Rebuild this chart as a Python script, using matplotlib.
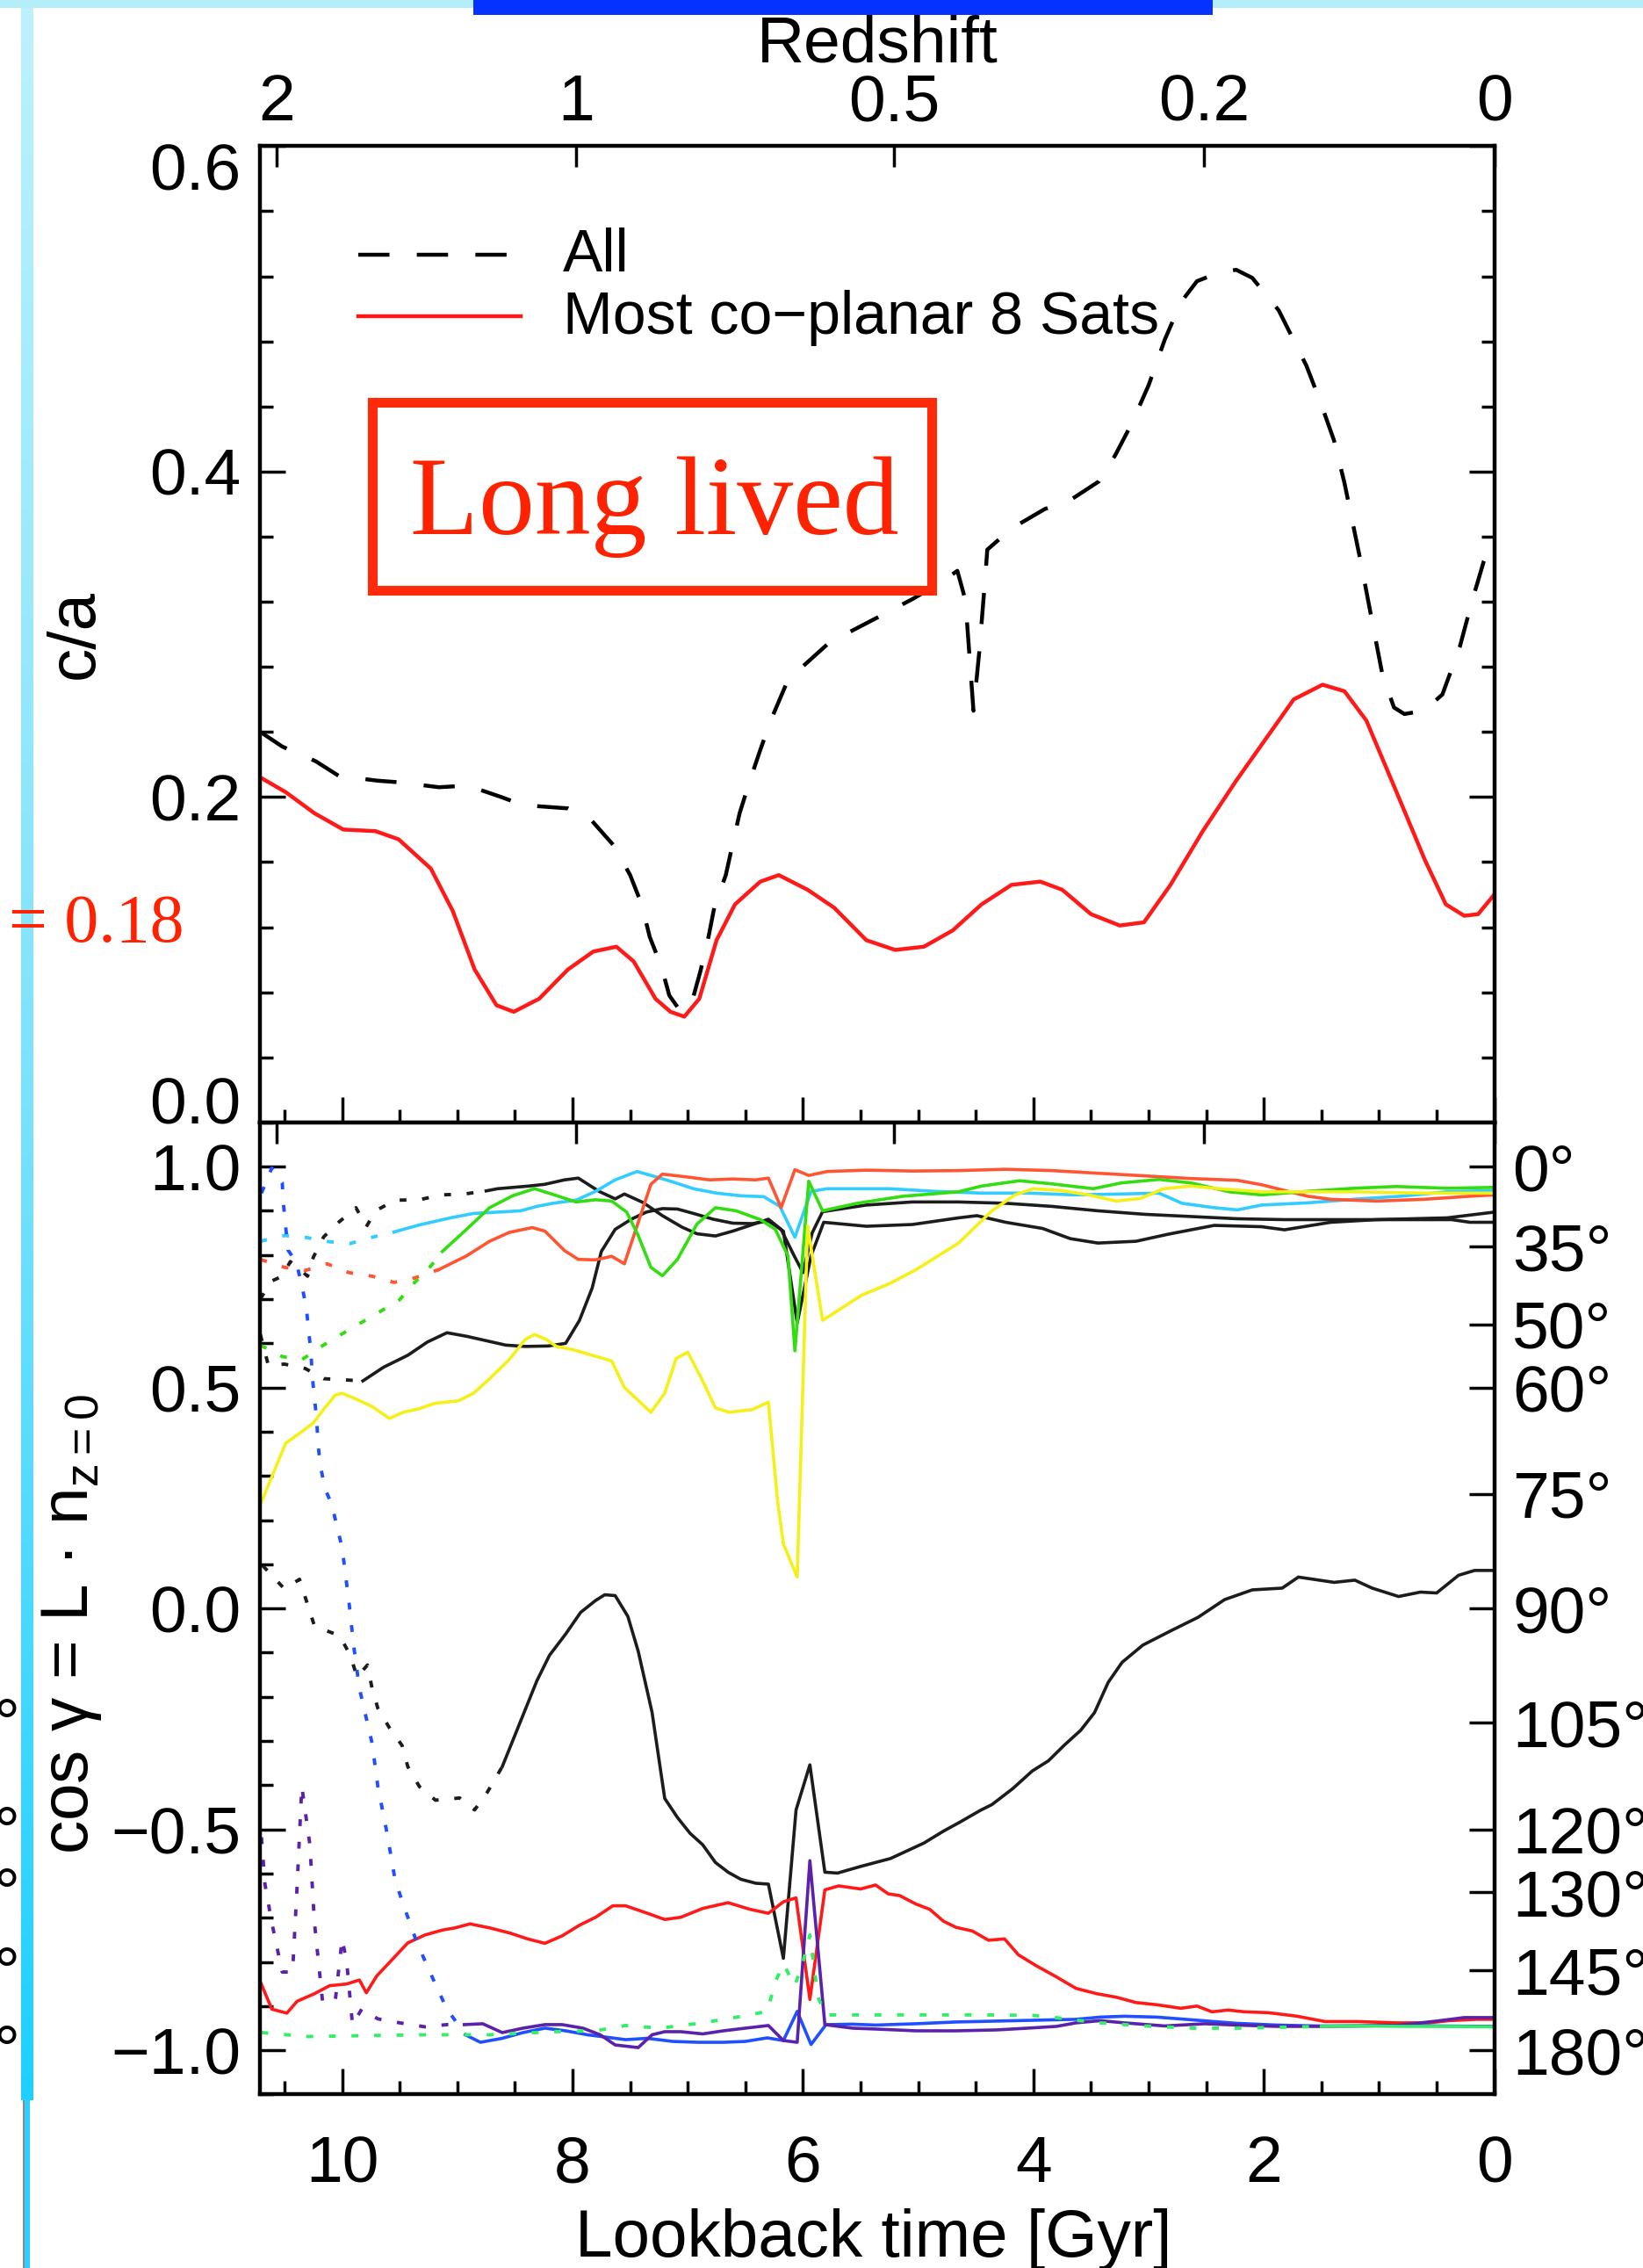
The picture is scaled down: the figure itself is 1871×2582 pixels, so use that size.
import numpy as np
import matplotlib.pyplot as plt
import matplotlib.transforms as mtransforms
from matplotlib.patches import Rectangle
from matplotlib.colors import LinearSegmentedColormap
from matplotlib.ticker import MultipleLocator, NullLocator

plt.rcParams['font.family'] = ['Liberation Sans', 'DejaVu Sans']
plt.rcParams['mathtext.fontset'] = 'custom'
plt.rcParams['mathtext.rm'] = 'Liberation Sans'
plt.rcParams['mathtext.it'] = 'Liberation Sans:italic'

# ---------------- top panel: c/a against lookback time [Gyr]
t_all = [10.71, 10.52, 10.23, 10.03, 9.69, 9.50, 9.16, 8.91, 8.62, 8.43, 8.04, 7.84, 7.64, 7.50,
         7.40, 7.33, 7.23, 7.16, 7.06, 6.96, 6.89, 6.82, 6.77, 6.67, 6.62, 6.55, 6.47, 6.38, 6.28,
         6.13, 5.77, 5.28, 5.04, 4.78, 4.66, 4.59, 4.52, 4.47, 4.42, 4.40, 4.19, 3.90, 3.69, 3.43,
         3.29, 3.15, 3.00, 2.86, 2.72, 2.58, 2.40, 2.24, 2.10, 1.87, 1.63, 1.51, 1.39, 1.30, 1.23,
         1.16, 1.06, 0.97, 0.87, 0.78, 0.61, 0.45, 0.30, 0.19, 0.09, 0.0]
ca_all = [0.240, 0.231, 0.222, 0.213, 0.210, 0.209, 0.206, 0.207, 0.200, 0.195, 0.193, 0.186, 0.170,
          0.152, 0.134, 0.114, 0.096, 0.078, 0.068, 0.075, 0.093, 0.114, 0.132, 0.152, 0.168, 0.190,
          0.208, 0.227, 0.247, 0.272, 0.295, 0.313, 0.322, 0.333, 0.339, 0.321, 0.253, 0.289, 0.333,
          0.352, 0.365, 0.377, 0.382, 0.394, 0.410, 0.429, 0.453, 0.481, 0.504, 0.517, 0.522, 0.524,
          0.519, 0.499, 0.465, 0.443, 0.419, 0.393, 0.369, 0.345, 0.308, 0.275, 0.255, 0.251, 0.253,
          0.263, 0.292, 0.321, 0.345, 0.360]

t_sats = [10.71, 10.49, 10.24, 9.99, 9.71, 9.51, 9.23, 9.04, 8.85, 8.66, 8.51, 8.29, 8.04, 7.82, 7.62,
          7.47, 7.28, 7.15, 7.03, 6.90, 6.75, 6.59, 6.37, 6.21, 5.96, 5.73, 5.45, 5.20, 4.95, 4.70,
          4.45, 4.19, 3.94, 3.75, 3.50, 3.25, 3.04, 2.81, 2.53, 2.24, 1.99, 1.74, 1.49, 1.30, 1.11,
          0.86, 0.60, 0.42, 0.26, 0.14, 0.0]
ca_sats = [0.212, 0.203, 0.190, 0.180, 0.179, 0.174, 0.156, 0.130, 0.094, 0.072, 0.068, 0.076, 0.094,
           0.105, 0.108, 0.099, 0.076, 0.068, 0.065, 0.076, 0.112, 0.134, 0.148, 0.152, 0.143, 0.132,
           0.112, 0.106, 0.108, 0.118, 0.134, 0.146, 0.148, 0.143, 0.128, 0.121, 0.123, 0.146, 0.179,
           0.210, 0.235, 0.260, 0.269, 0.265, 0.247, 0.205, 0.161, 0.134, 0.127, 0.128, 0.140]

# ---------------- bottom panel: cos(gamma) per satellite, [lookback, cos]
black_a = [[10.71, 0.70], [10.62, 0.74], [10.52, 0.752], [10.45, 0.785], [10.30, 0.752], [10.25, 0.795],
           [10.16, 0.841], [10.03, 0.874], [9.88, 0.907], [9.79, 0.864], [9.71, 0.90], [9.54, 0.924],
           [9.33, 0.925], [9.14, 0.936], [8.94, 0.938], [8.75, 0.945], [8.65, 0.95], [8.38, 0.956],
           [8.24, 0.96], [8.07, 0.97], [7.95, 0.974], [7.77, 0.944], [7.63, 0.927], [7.55, 0.938],
           [7.39, 0.919], [7.22, 0.889], [7.05, 0.863], [6.92, 0.848], [6.76, 0.843], [6.61, 0.854],
           [6.47, 0.866], [6.30, 0.881], [6.19, 0.858], [6.08, 0.80], [6.00, 0.76], [5.92, 0.85],
           [5.83, 0.898], [5.45, 0.913], [5.05, 0.92], [4.65, 0.92], [4.24, 0.917], [3.84, 0.91],
           [3.44, 0.90], [3.03, 0.892], [2.63, 0.887], [2.23, 0.882], [1.82, 0.88], [1.42, 0.88],
           [1.02, 0.88], [0.41, 0.884], [0.0, 0.897]]
black_b = [[10.71, 0.62], [10.64, 0.55], [10.50, 0.553], [10.32, 0.543], [10.16, 0.52], [9.96, 0.517],
           [9.82, 0.515], [9.64, 0.546], [9.43, 0.573], [9.26, 0.603], [9.09, 0.624], [8.92, 0.616],
           [8.75, 0.606], [8.58, 0.596], [8.41, 0.593], [8.21, 0.594], [8.06, 0.60], [7.94, 0.652],
           [7.83, 0.725], [7.75, 0.808], [7.63, 0.858], [7.49, 0.881], [7.36, 0.897], [7.22, 0.905],
           [7.09, 0.904], [6.95, 0.894], [6.78, 0.881], [6.61, 0.872], [6.44, 0.871], [6.30, 0.877],
           [6.17, 0.854], [6.05, 0.646], [5.93, 0.798], [5.82, 0.874], [5.45, 0.865], [5.05, 0.869],
           [4.65, 0.884], [4.49, 0.889], [4.24, 0.874], [3.92, 0.86], [3.68, 0.837], [3.44, 0.827],
           [3.11, 0.831], [2.83, 0.847], [2.43, 0.867], [2.02, 0.864], [1.82, 0.857], [1.42, 0.874],
           [1.02, 0.88], [0.37, 0.88], [0.21, 0.874], [0.0, 0.874]]
black_c = [[10.69, 0.097], [10.50, 0.044], [10.37, 0.066], [10.30, 0.009], [10.24, -0.04], [10.02, -0.062],
           [9.93, -0.106], [9.87, -0.155], [9.78, -0.128], [9.74, -0.181], [9.69, -0.226], [9.59, -0.27],
           [9.48, -0.31], [9.43, -0.358], [9.33, -0.403], [9.19, -0.434], [8.98, -0.429], [8.85, -0.456],
           [8.74, -0.416], [8.61, -0.358], [8.46, -0.261], [8.31, -0.164], [8.20, -0.106], [8.06, -0.058],
           [7.93, -0.009], [7.80, 0.018], [7.72, 0.031], [7.63, 0.029], [7.52, -0.018], [7.43, -0.097],
           [7.31, -0.235], [7.20, -0.43], [7.09, -0.473], [6.98, -0.509], [6.87, -0.535], [6.76, -0.575],
           [6.65, -0.597], [6.54, -0.613], [6.41, -0.622], [6.30, -0.624], [6.17, -0.792], [6.06, -0.456],
           [5.94, -0.354], [5.81, -0.597], [5.70, -0.599], [5.50, -0.584], [5.24, -0.566], [4.95, -0.531],
           [4.78, -0.504], [4.64, -0.484], [4.46, -0.457], [4.36, -0.444], [4.18, -0.408], [4.01, -0.368],
           [3.87, -0.345], [3.73, -0.309], [3.59, -0.276], [3.47, -0.236], [3.35, -0.167], [3.23, -0.122],
           [3.05, -0.083], [2.81, -0.051], [2.57, -0.02], [2.34, 0.02], [2.10, 0.042], [1.84, 0.046],
           [1.70, 0.071], [1.39, 0.059], [1.21, 0.064], [1.06, 0.046], [0.83, 0.027], [0.64, 0.037],
           [0.50, 0.035], [0.31, 0.075], [0.17, 0.086], [0.0, 0.086]]
cyan = [[10.71, 0.831], [10.50, 0.844], [10.32, 0.84], [10.11, 0.83], [9.93, 0.826], [9.74, 0.84],
        [9.55, 0.852], [9.33, 0.868], [9.06, 0.884], [8.86, 0.894], [8.65, 0.897], [8.45, 0.90],
        [8.31, 0.91], [8.17, 0.917], [7.97, 0.924], [7.80, 0.944], [7.63, 0.97], [7.44, 0.989],
        [7.32, 0.98], [7.15, 0.967], [6.95, 0.95], [6.75, 0.94], [6.54, 0.934], [6.34, 0.932],
        [6.20, 0.91], [6.07, 0.84], [5.93, 0.944], [5.79, 0.95], [5.66, 0.95], [5.25, 0.95],
        [4.85, 0.944], [4.45, 0.94], [4.04, 0.94], [3.64, 0.936], [3.24, 0.938], [2.91, 0.94],
        [2.71, 0.917], [2.43, 0.907], [2.23, 0.902], [2.02, 0.913], [1.62, 0.918], [1.22, 0.926],
        [0.81, 0.933], [0.41, 0.943], [0.0, 0.946]]
orange = [[10.71, 0.79], [10.50, 0.772], [10.32, 0.765], [10.13, 0.78], [9.94, 0.76], [9.74, 0.752],
          [9.55, 0.738], [9.37, 0.748], [9.16, 0.767], [8.92, 0.798], [8.72, 0.831], [8.55, 0.851],
          [8.35, 0.862], [8.24, 0.854], [8.07, 0.81], [7.95, 0.79], [7.80, 0.789], [7.66, 0.797],
          [7.55, 0.78], [7.32, 0.96], [7.22, 0.983], [7.02, 0.977], [6.81, 0.97], [6.61, 0.972],
          [6.41, 0.97], [6.30, 0.974], [6.19, 0.907], [6.07, 0.993], [5.95, 0.98], [5.79, 0.989],
          [5.45, 0.992], [5.05, 0.99], [4.65, 0.991], [4.24, 0.994], [3.84, 0.991], [3.44, 0.985],
          [3.03, 0.979], [2.63, 0.973], [2.23, 0.969], [2.02, 0.959], [1.82, 0.946], [1.62, 0.933],
          [1.42, 0.926], [1.02, 0.922], [0.61, 0.926], [0.21, 0.933], [0.0, 0.936]]
green = [[10.71, 0.596], [10.52, 0.57], [10.35, 0.563], [10.18, 0.593], [10.01, 0.62], [9.84, 0.646],
         [9.67, 0.672], [9.50, 0.699], [9.37, 0.738], [9.23, 0.775], [9.13, 0.808], [8.92, 0.858],
         [8.72, 0.907], [8.52, 0.934], [8.33, 0.95], [8.17, 0.937], [7.97, 0.92], [7.80, 0.925],
         [7.66, 0.922], [7.53, 0.897], [7.43, 0.844], [7.32, 0.772], [7.22, 0.753], [7.09, 0.79],
         [6.92, 0.87], [6.76, 0.907], [6.58, 0.90], [6.37, 0.88], [6.24, 0.858], [6.13, 0.798],
         [6.07, 0.583], [5.95, 0.967], [5.83, 0.90], [5.53, 0.917], [5.13, 0.933], [4.65, 0.943],
         [4.45, 0.956], [4.12, 0.968], [3.84, 0.961], [3.48, 0.95], [3.24, 0.963], [2.91, 0.971],
         [2.63, 0.963], [2.30, 0.943], [2.02, 0.936], [1.62, 0.944], [1.22, 0.951], [0.85, 0.955],
         [0.41, 0.951], [0.0, 0.953]]
yellow = [[10.71, 0.235], [10.49, 0.374], [10.35, 0.40], [10.25, 0.42], [10.15, 0.454], [10.06, 0.483],
          [10.0, 0.487], [9.88, 0.474], [9.74, 0.457], [9.59, 0.43], [9.47, 0.444], [9.33, 0.452],
          [9.20, 0.464], [8.99, 0.47], [8.86, 0.487], [8.72, 0.52], [8.55, 0.563], [8.41, 0.609],
          [8.33, 0.62], [8.23, 0.609], [8.14, 0.593], [8.00, 0.586], [7.83, 0.573], [7.66, 0.56],
          [7.55, 0.50], [7.32, 0.444], [7.20, 0.487], [7.10, 0.566], [7.0, 0.58], [6.88, 0.52],
          [6.76, 0.454], [6.64, 0.444], [6.44, 0.45], [6.30, 0.467], [6.22, 0.242], [6.17, 0.146],
          [6.05, 0.071], [5.96, 0.866], [5.83, 0.652], [5.49, 0.709], [5.25, 0.735], [5.01, 0.768],
          [4.65, 0.827], [4.36, 0.90], [4.16, 0.936], [4.0, 0.95], [3.76, 0.946], [3.52, 0.936],
          [3.28, 0.922], [3.07, 0.928], [2.87, 0.95], [2.63, 0.956], [2.39, 0.95], [2.02, 0.943],
          [1.62, 0.943], [1.22, 0.943], [0.61, 0.94], [0.0, 0.94]]
red = [[10.71, -0.845], [10.61, -0.907], [10.48, -0.916], [10.39, -0.889], [10.24, -0.872], [10.11, -0.854],
       [9.96, -0.85], [9.85, -0.841], [9.79, -0.87], [9.70, -0.832], [9.57, -0.796], [9.43, -0.757],
       [9.28, -0.739], [9.13, -0.728], [9.02, -0.723], [8.89, -0.714], [8.72, -0.723], [8.54, -0.735],
       [8.39, -0.748], [8.24, -0.758], [8.09, -0.741], [7.94, -0.717], [7.80, -0.699], [7.65, -0.673],
       [7.54, -0.673], [7.35, -0.69], [7.20, -0.704], [7.06, -0.699], [6.87, -0.679], [6.65, -0.666],
       [6.46, -0.681], [6.30, -0.69], [6.17, -0.664], [6.06, -0.655], [5.94, -0.885], [5.81, -0.637],
       [5.69, -0.628], [5.50, -0.635], [5.37, -0.626], [5.26, -0.646], [5.16, -0.65], [5.02, -0.669],
       [4.90, -0.681], [4.78, -0.708], [4.67, -0.722], [4.53, -0.73], [4.39, -0.751], [4.25, -0.748],
       [4.13, -0.784], [3.98, -0.808], [3.80, -0.834], [3.63, -0.86], [3.45, -0.872], [3.28, -0.88],
       [3.11, -0.892], [2.93, -0.897], [2.72, -0.905], [2.58, -0.90], [2.45, -0.913], [2.31, -0.909],
       [2.17, -0.913], [1.96, -0.915], [1.71, -0.923], [1.47, -0.935], [1.19, -0.935], [0.85, -0.938],
       [0.57, -0.938], [0.39, -0.933], [0.15, -0.93], [0.0, -0.93]]
blue = [[10.70, 0.94], [10.61, 0.997], [10.52, 0.964], [10.51, 0.917], [10.49, 0.864], [10.47, 0.811],
        [10.40, 0.785], [10.35, 0.732], [10.31, 0.679], [10.29, 0.626], [10.27, 0.579], [10.26, 0.526],
        [10.24, 0.477], [10.22, 0.424], [10.21, 0.374], [10.19, 0.325], [10.15, 0.272], [10.09, 0.235],
        [10.0, 0.137], [9.94, 0.013], [9.90, -0.084], [9.85, -0.181], [9.74, -0.305], [9.69, -0.403],
        [9.61, -0.509], [9.54, -0.615], [9.46, -0.677], [9.35, -0.757], [9.20, -0.845], [9.09, -0.907],
        [8.93, -0.965], [8.80, -0.982], [8.61, -0.973], [8.43, -0.96], [8.24, -0.95], [8.06, -0.956],
        [7.87, -0.965], [7.69, -0.971], [7.54, -0.976], [7.35, -0.973], [7.13, -0.98], [6.91, -0.982],
        [6.69, -0.982], [6.50, -0.98], [6.31, -0.972], [6.17, -0.978], [6.05, -0.912], [5.93, -0.987],
        [5.80, -0.942], [5.57, -0.941], [5.37, -0.943], [5.02, -0.94], [4.67, -0.936], [4.32, -0.934],
        [3.98, -0.932], [3.63, -0.93], [3.42, -0.925], [3.21, -0.923], [2.93, -0.925], [2.58, -0.932],
        [2.24, -0.939], [1.89, -0.943], [1.54, -0.945], [1.19, -0.945], [0.85, -0.944], [0.50, -0.945],
        [0.0, -0.946]]
purple = [[10.70, -0.518], [10.67, -0.624], [10.61, -0.712], [10.52, -0.823], [10.43, -0.823],
          [10.39, -0.624], [10.35, -0.403], [10.28, -0.535], [10.24, -0.712], [10.17, -0.889],
          [10.06, -0.889], [10.0, -0.748], [9.96, -0.801], [9.91, -0.942], [9.83, -0.907], [9.69, -0.929],
          [9.50, -0.938], [9.28, -0.947], [9.09, -0.942], [8.94, -0.942], [8.78, -0.94], [8.61, -0.96],
          [8.43, -0.95], [8.24, -0.942], [8.09, -0.942], [7.91, -0.95], [7.76, -0.965], [7.63, -0.988],
          [7.43, -0.994], [7.31, -0.965], [7.20, -0.958], [7.06, -0.958], [6.87, -0.963], [6.69, -0.956],
          [6.50, -0.95], [6.30, -0.944], [6.17, -0.978], [6.05, -0.982], [5.94, -0.571], [5.81, -0.942],
          [5.57, -0.95], [5.37, -0.952], [5.02, -0.956], [4.67, -0.956], [4.32, -0.954], [4.05, -0.95],
          [3.80, -0.946], [3.63, -0.938], [3.42, -0.933], [3.21, -0.938], [2.86, -0.945], [2.51, -0.94],
          [2.24, -0.943], [1.89, -0.946], [1.54, -0.946], [1.19, -0.945], [0.85, -0.944], [0.50, -0.934],
          [0.26, -0.926], [0.0, -0.926]]
lime = [[10.70, -0.96], [10.30, -0.969], [9.83, -0.967], [9.28, -0.965], [8.72, -0.965], [8.17, -0.958],
        [7.80, -0.956], [7.54, -0.944], [7.24, -0.95], [6.87, -0.938], [6.57, -0.925], [6.31, -0.912],
        [6.24, -0.845], [6.17, -0.805], [6.07, -0.854], [6.0, -0.80], [5.94, -0.739], [5.87, -0.88],
        [5.80, -0.92], [5.39, -0.92], [4.95, -0.92], [4.43, -0.92], [4.01, -0.921], [3.84, -0.925],
        [3.63, -0.932], [3.42, -0.938], [3.04, -0.945], [2.62, -0.95], [2.24, -0.95], [1.85, -0.948],
        [1.50, -0.946], [1.20, -0.945], [0.80, -0.946], [0.40, -0.946], [0.0, -0.947]]

# lookback time [Gyr] after which each track is drawn solid (earlier part dotted)
solid_after = {'black_a': 8.75, 'black_b': 9.82, 'black_c': 8.61, 'cyan': 9.55, 'orange': 9.16,
               'green': 9.13, 'yellow': 99, 'red': 99, 'blue': 8.93, 'purple': 8.94, 'lime': 1.5}

z_labels = ['2', '1', '0.5', '0.2', '0']
z_lookback = [10.57, 7.97, 5.21, 2.52, 0.0]
angles = [0, 35, 50, 60, 75, 90, 105, 120, 130, 145, 180]

TL = 54  # tick label size

fig = plt.figure(figsize=(18.71, 25.82), dpi=100)
ax1 = fig.add_axes([0.15845, 0.50510, 0.7510, 0.43048])
ax2 = fig.add_axes([0.15845, 0.07653, 0.7510, 0.42857])

for ax in (ax1, ax2):
    ax.set_xlim(10.71, 0)
    for s in ax.spines.values():
        s.set_linewidth(3.2)
    ax.xaxis.set_major_locator(MultipleLocator(2))
    ax.xaxis.set_minor_locator(MultipleLocator(0.5))
    ax.tick_params(which='both', direction='in', width=2.5, top=False, labelsize=TL)
    ax.tick_params(which='major', length=21)
    ax.tick_params(which='minor', length=11)

# top panel
ax1.plot(t_all, ca_all, color='black', lw=3.2, ls=(0, (8, 7)))
ax1.plot(t_sats, ca_sats, color='#FF1A1A', lw=3.2)
ax1.set_ylim(0, 0.6)
ax1.set_yticks([0, 0.2, 0.4, 0.6])
ax1.set_yticklabels(['0.0', '0.2', '0.4', '0.6'])
ax1.yaxis.set_minor_locator(MultipleLocator(0.04))
ax1.tick_params(axis='y', which='both', right=True, pad=16)
ax1.tick_params(axis='x', labelbottom=False)

# legend drawn by hand
ax1.plot([0.0795, 0.211], [0.8883, 0.8883], transform=ax1.transAxes, color='black', lw=3.2,
         ls=(0, (8, 7)))
ax1.plot([0.0795, 0.211], [0.826, 0.826], transform=ax1.transAxes, color='#FF1A1A', lw=3.2)
ax1.text(0.245, 0.872, 'All', transform=ax1.transAxes, fontsize=49, va='baseline')
ax1.text(0.245, 0.808, 'Most co\u2212planar 8 Sats', transform=ax1.transAxes, fontsize=49,
         va='baseline')

# bottom panel
colors = {'black_a': '#1c1c1c', 'black_b': '#1c1c1c', 'black_c': '#1c1c1c', 'cyan': '#33CCFF',
          'orange': '#FF5533', 'green': '#33DD11', 'yellow': '#F5F01A', 'red': '#FF1A1A',
          'blue': '#1F4FFF', 'purple': '#5A22AA', 'lime': '#33EE66'}
tracks = {'black_a': black_a, 'black_b': black_b, 'black_c': black_c, 'cyan': cyan, 'orange': orange,
          'green': green, 'yellow': yellow, 'red': red, 'blue': blue, 'purple': purple, 'lime': lime}
for name, pts in tracks.items():
    arr = np.array(pts)
    t, v = arr[:, 0], arr[:, 1]
    ts = solid_after[name]
    dot = t >= ts
    sol = t <= ts
    if dot.sum() > 1:
        ax2.plot(t[dot], v[dot], color=colors[name], lw=2.8, ls=(0, (2.0, 4.6)))
    if sol.sum() > 1:
        ax2.plot(t[sol], v[sol], color=colors[name], lw=2.6)

ax2.set_ylim(-1.1, 1.1)
ax2.set_yticks([-1, -0.5, 0, 0.5, 1])
ax2.set_yticklabels(['\u22121.0', '\u22120.5', '0.0', '0.5', '1.0'])
ax2.yaxis.set_minor_locator(MultipleLocator(0.1))
ax2.tick_params(axis='y', which='both', right=False, pad=16)
ax2.tick_params(axis='x', pad=33)

# redshift ticks on both panels, labels only on the top one
for ax, lab in ((ax1, True), (ax2, False)):
    axz = ax.twiny()
    axz.set_xlim(ax.get_xlim())
    axz.set_xticks(z_lookback)
    axz.set_xticklabels(z_labels)
    axz.xaxis.set_minor_locator(NullLocator())
    axz.tick_params(axis='x', direction='in', length=17, width=2.5, labelsize=TL, pad=10,
                    top=True, bottom=False, labeltop=lab, labelbottom=False)
    for s in axz.spines.values():
        s.set_visible(False)

# angle axis on the right of the bottom panel
axr = ax2.twinx()
axr.set_ylim(-1.1, 1.1)
axr.set_yticks(np.cos(np.radians(angles)))
axr.set_yticklabels([f'{a}\u00b0' for a in angles])
axr.yaxis.set_minor_locator(NullLocator())
axr.tick_params(axis='y', direction='in', length=21, width=2.5, labelsize=TL, pad=15)
for s in axr.spines.values():
    s.set_visible(False)

# edge labels of the top panel sit inside the axis range
yt = ax1.yaxis.get_major_ticks()
yt[0].label1.set_transform(yt[0].label1.get_transform() +
                           mtransforms.ScaledTranslation(0, 0.25, fig.dpi_scale_trans))
yt[-1].label1.set_transform(yt[-1].label1.get_transform() +
                            mtransforms.ScaledTranslation(0, -0.23, fig.dpi_scale_trans))

fig.text(0.5339, 0.97258, 'Redshift', ha='center', va='baseline', fontsize=54)
fig.text(0.5317, 0.00485, 'Lookback time [Gyr]', ha='center', va='baseline', fontsize=55)
fig.text(0.046, 0.7205, 'c/a', rotation=90, ha='center', va='center', fontsize=55)
fig.text(0.0435, 0.2839, 'cos \u03b3 = L \u00b7 n$_\\mathrm{z=0}$', rotation=90, ha='center',
         va='center', fontsize=55)

# ---------------- slide decorations around the figure
bar_cmap = LinearSegmentedColormap.from_list('bar', ['#BDF1FD', '#7FE3FB', '#1ED0FF'])
axb = fig.add_axes([0.01283, 0.0740, 0.00748, 0.926])
axb.imshow(np.linspace(0, 1, 256)[:, None], aspect='auto', cmap=bar_cmap)
axb.set_axis_off()
fig.add_artist(Rectangle((27 / 1871, 0), 7 / 1871, 0.0740, transform=fig.transFigure,
                         color='#2BD0FF', lw=0, zorder=2))
fig.add_artist(Rectangle((26 / 1871, 0), 1.5 / 1871, 0.0740, transform=fig.transFigure,
                         color='#8a8a8a', lw=0, zorder=2))
fig.add_artist(Rectangle((0, 1 - 9.3 / 2582), 1, 9.3 / 2582, transform=fig.transFigure,
                         color='#B3EEFA', lw=0, zorder=5))
fig.add_artist(Rectangle((0.2881, 0.99353), 0.45, 0.00647, transform=fig.transFigure,
                         color='#0532FF', lw=0, zorder=6))

fig.add_artist(Rectangle((0.2268, 0.7398), 0.3401, 0.0829, transform=fig.transFigure,
                         fc='white', ec='#FF2A0A', lw=8, zorder=5))
fig.text(0.2498, 0.7647, 'Long lived', fontsize=92, color='#FF2200', family='Liberation Serif',
         ha='left', va='baseline', zorder=6)
fig.text(0.0051, 0.5848, '= 0.18', fontsize=56, color='#FF2200', family='Liberation Serif',
         ha='left', va='baseline', zorder=6)

for yring in [1179, 1254, 1296, 1351, 1405]:
    fig.text(8 / 1871, 1 - (yring + 27) / 1568, '\u00b0', fontsize=54, ha='center', va='baseline')

fig.savefig('out.png', dpi=100)
